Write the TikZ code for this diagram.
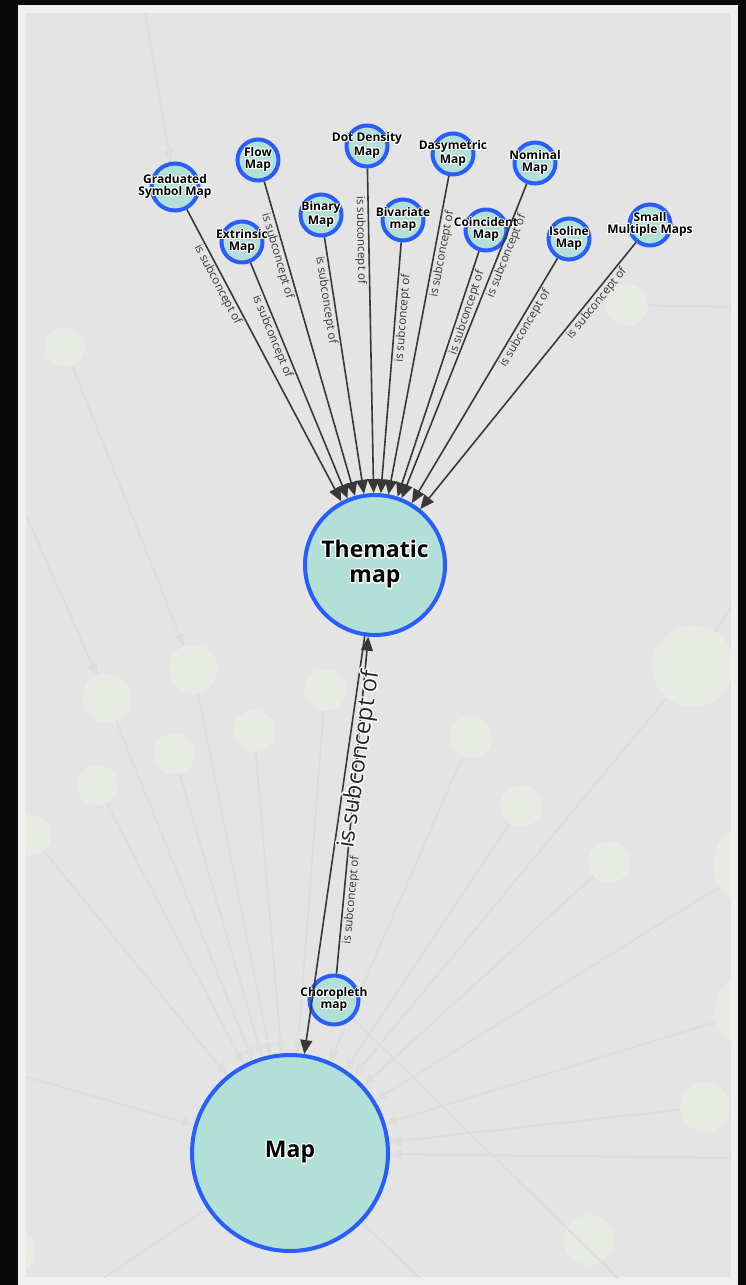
\documentclass[tikz,border=0pt]{standalone}
\usepackage{fontspec}
\setmainfont{Open Sans}
\usepackage[copies]{contour}
\contourlength{0.9pt}
\usetikzlibrary{arrows.meta}
\pgfdeclarelayer{back}
\pgfdeclarelayer{ghostlayer}
\pgfsetlayers{back,ghostlayer,main}
\definecolor{outerbg}{HTML}{0A0A0A}
\definecolor{frame}{HTML}{F0F0F0}
\definecolor{panel}{HTML}{E4E4E4}
\definecolor{ghostfill}{HTML}{E7EBE4}
\definecolor{ghostline}{HTML}{DDDDDD}
\definecolor{nodefill}{HTML}{B2DFD6}
\definecolor{nodeblue}{HTML}{2A5CFF}
\definecolor{edgecol}{HTML}{383838}
\newcommand\hl[1]{\contour{white}{#1}}
\tikzset{
  concept/.style={circle, draw=nodeblue, fill=nodefill, line width=4pt, inner sep=0pt},
  smallc/.style={concept, minimum size=41pt},
  nlabel/.style={font=\fontsize{12}{11.6}\selectfont\bfseries, align=center, text=black, inner sep=0pt},
  biglabel/.style={font=\fontsize{23}{25}\selectfont\bfseries\contourlength{1.2pt}, align=center, text=black, inner sep=0pt},
  rel/.style={draw=edgecol, line width=1.6pt, -{Triangle[length=14pt,width=12pt]}},
  elabel/.style={font=\fontsize{11.6}{11.6}\selectfont, text=edgecol, sloped, below, inner sep=1.5pt},
  bigelabel/.style={font=\fontsize{23.5}{23.5}\selectfont\contourlength{1.2pt}, text=black!85, sloped, below, inner sep=0pt},
  ghost/.style={circle, fill=ghostfill, inner sep=0pt},
  gline/.style={draw=ghostline, line width=1.5pt, -{Triangle[length=12pt,width=10pt]}},
  glineplain/.style={draw=ghostline, line width=1.5pt},
}
\begin{document}
\begin{tikzpicture}[x=1pt,y=-1pt]
\useasboundingbox (0,0) rectangle (746,1285);
\begin{pgfonlayer}{back}
  \fill[outerbg] (0,0) rectangle (746,1285);
  \fill[frame] (18,5) rectangle (738,1285);
  \fill[panel] (26,13) rectangle (731,1277);
\end{pgfonlayer}

% main concept nodes
\node[concept, minimum size=140pt, label={[biglabel]center:{\hl{Thematic}\\\hl{map}}}] (them) at (375,565) {};
\node[concept, minimum size=196pt, label={[biglabel]center:{\hl{Map}}}] (map) at (290,1153) {};
\node[concept, minimum size=49pt, label={[nlabel]center:{\hl{Choropleth}\\\hl{map}}}] (choro) at (334,1000) {};

\node[concept, minimum size=47pt, label={[nlabel]center:{\hl{Graduated}\\\hl{Symbol Map}}}] (grad) at (175,187) {};
\node[smallc, label={[nlabel]center:{\hl{Flow}\\\hl{Map}}}] (flow) at (258,160) {};
\node[smallc, label={[nlabel]center:{\hl{Extrinsic}\\\hl{Map}}}] (extr) at (242,242) {};
\node[smallc, label={[nlabel]center:{\hl{Binary}\\\hl{Map}}}] (bin) at (321,215) {};
\node[smallc, label={[nlabel]center:{\hl{Dot Density}\\\hl{Map}}}] (dot) at (367,146) {};
\node[smallc, label={[nlabel]center:{\hl{Bivariate}\\\hl{map}}}] (biv) at (403,220) {};
\node[smallc, label={[nlabel]center:{\hl{Dasymetric}\\\hl{Map}}}] (dasy) at (453,154) {};
\node[smallc, label={[nlabel]center:{\hl{Nominal}\\\hl{Map}}}] (nom) at (535,163) {};
\node[smallc, label={[nlabel]center:{\hl{Coincident}\\\hl{Map}}}] (coin) at (486,230) {};
\node[smallc, label={[nlabel]center:{\hl{Isoline}\\\hl{Map}}}] (iso) at (569,239) {};
\node[smallc, label={[nlabel]center:{\hl{Small}\\\hl{Multiple Maps}}}] (smm) at (650,225) {};

% ghost background graph
\begin{pgfonlayer}{ghostlayer}
\begin{scope}
  \clip (26,13) rectangle (731,1277);
  \node[ghost, minimum size=40pt] (g1) at (65,347) {};
  \node[ghost, minimum size=49pt] (g2) at (107,698) {};
  \node[ghost, minimum size=49pt] (g3) at (193,669) {};
  \node[ghost, minimum size=41pt] (g4) at (174,754) {};
  \node[ghost, minimum size=41pt] (g5) at (97,785) {};
  \node[ghost, minimum size=41pt] (g6) at (31,835) {};
  \node[ghost, minimum size=42pt] (g7) at (254,731) {};
  \node[ghost, minimum size=42pt] (g8) at (325,690) {};
  \node[ghost, minimum size=42pt] (g9) at (471,737) {};
  \node[ghost, minimum size=42pt] (g10) at (521,806) {};
  \node[ghost, minimum size=42pt] (g11) at (609,862) {};
  \node[ghost, minimum size=42pt] (g12) at (627,305) {};
  \node[ghost, minimum size=82pt] (g13) at (693,666) {};
  \node[ghost, minimum size=84pt] (g14) at (755,865) {};
  \node[ghost, minimum size=80pt] (g15) at (755,1010) {};
  \node[ghost, minimum size=50pt] (g16) at (705,1107) {};
  \node[ghost, minimum size=50pt] (g17) at (589,1240) {};
  \node[ghost, minimum size=50pt] (g18) at (10,1250) {};
  \coordinate (etop) at (145,13);
  \coordinate (eleft) at (26,515);
  \coordinate (eleft2) at (20,1075);
  \coordinate (eright) at (740,1158);
  \coordinate (ebl) at (86,1290);
  \coordinate (ebm) at (432,1290);
  \coordinate (ebr) at (624,1290);
  \coordinate (ebr2) at (630,1290);
  \coordinate (etr) at (745,585);
  \coordinate (er) at (740,307);
  \draw[gline] (etop) -- (grad);
  \draw[gline] (g1) -- (g3);
  \draw[gline] (eleft) -- (g2);
  \foreach \g in {g2,g3,g4,g5,g6,g7,g8,g9,g10,g11,g13,g14,g15,g16}
    \draw[gline] (\g) -- (map);
  \draw[gline] (eleft2) -- (map);
  \draw[gline] (eright) -- (map);
  \draw[glineplain] (map) -- (ebl);
  \draw[glineplain] (map) -- (ebm);
  \draw[glineplain] (choro) -- (ebr2);
  \draw[glineplain] (g17) -- (ebr);
  \draw[gline] (g13) -- (etr);
  \draw[glineplain] (g12) -- (er);
\end{scope}
\end{pgfonlayer}

% relations
\draw[rel] (grad) -- node[elabel, pos=0.245] {is subconcept of} (them);
\draw[rel] (flow) -- node[elabel, pos=0.23] {is subconcept of} (them);
\draw[rel] (extr) -- node[elabel, pos=0.30] {is subconcept of} (them);
\draw[rel] (bin) -- node[elabel, pos=0.24] {is subconcept of} (them);
\draw[rel] (dot) -- node[elabel, pos=0.22] {is subconcept of} (them);
\draw[rel] (biv) -- node[elabel, pos=0.30] {is subconcept of} (them);
\draw[rel] (dasy) -- node[elabel, pos=0.24] {is subconcept of} (them);
\draw[rel] (nom) -- node[elabel, pos=0.22] {is subconcept of} (them);
\draw[rel] (coin) -- node[elabel, pos=0.24] {is subconcept of} (them);
\draw[rel] (iso) -- node[elabel, pos=0.27] {is subconcept of} (them);
\draw[rel] (smm) -- node[elabel, pos=0.21] {is subconcept of} (them);
\draw[rel] (choro) -- node[elabel, pos=0.22] {is subconcept of} (them);
\draw[rel] (them) -- node[bigelabel, pos=0.29] {\hl{is subconcept of}} (map);
\end{tikzpicture}
\end{document}
